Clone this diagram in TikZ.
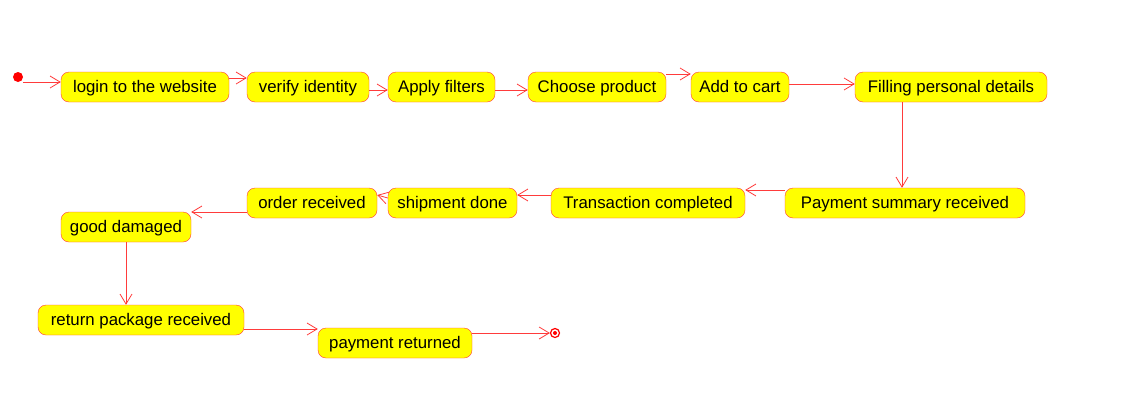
\documentclass[tikz,border=0pt]{standalone}
\usepackage{fontspec}
\setmainfont{Liberation Sans}
\usetikzlibrary{arrows.meta}
\definecolor{actred}{HTML}{FF3B3B}
\definecolor{actyellow}{HTML}{FFFF00}

\begin{document}
\begin{tikzpicture}[x=1pt, y=-1pt,
    act/.style={draw=actred, fill=actyellow, rounded corners=8pt, minimum height=30pt,
      inner sep=0pt, text height=13pt, text depth=1.5pt, font=\fontsize{16.8}{19}\selectfont},
    flow/.style={actred, line width=0.8pt, -{Straight Barb[length=10pt, width=12pt, line width=0.8pt]}}]
        \useasboundingbox[fill=white] (0,0) rectangle (1129,418);
        % first row
        \node[circle, fill=red, inner sep=0pt, minimum size=10pt] (start) at (18,77) {};
        \node[act, minimum width=168pt] (login) at (145,87) {login to the website};
        \node[act, minimum width=122pt] (verify) at (308,87) {verify identity};
        \node[act, minimum width=107pt] (filters) at (441.5,87) {Apply filters};
        \node[act, minimum width=138pt] (choose) at (597,87) {Choose product};
        \node[act, minimum width=98pt] (cart) at (740,87) {Add to cart};
        \node[act, minimum width=192pt] (details) at (951,87) {Filling personal details};
        % second row
        \node[act, minimum width=240pt] (summary) at (905,203) {Payment summary received};
        \node[act, minimum width=194pt] (transaction) at (648,203) {Transaction completed};
        \node[act, minimum width=129pt] (shipment) at (452.5,203) {shipment done};
        \node[act, minimum width=130pt] (order) at (312,203) {order received};
        \node[act, minimum width=130pt] (damaged) at (126,227) {good damaged};
        % return
        \node[act, minimum width=206pt] (back) at (141,320) {return package received};
        \node[act, minimum width=154pt] (refund) at (395,343) {payment returned};
        \node[circle, draw=red, line width=1.2pt, inner sep=0pt, minimum size=9pt,
          path picture={\fill[red] (path picture bounding box.center) circle (2pt);}] (stop) at (555,333) {};
        % connectors
        \draw[flow] ([yshift=-5pt]start.east) -- ([yshift=5pt]login.west);
        \draw[flow] ([yshift=9pt]login.east) -- ([yshift=9pt]verify.west);
        \draw[flow] ([yshift=-3pt]verify.east) -- ([yshift=-3pt]filters.west);
        \draw[flow] ([yshift=-3pt]filters.east) -- ([yshift=-3pt]choose.west);
        \draw[flow] ([yshift=13pt]choose.east) -- ([yshift=13pt]cart.west);
        \draw[flow] ([yshift=3pt]cart.east) -- ([yshift=3pt]details.west);
        \draw[flow] ([xshift=-49pt]details.south) -- ([xshift=-3pt]summary.north);
        \draw[flow] ([yshift=13pt]summary.west) -- ([yshift=13pt]transaction.east);
        \draw[flow] ([yshift=8pt]transaction.west) -- ([yshift=8pt]shipment.east);
        \draw[flow] ([yshift=5pt]shipment.west) -- ([yshift=8pt]order.east);
        \draw[flow] ([yshift=-9pt]order.west) -- ([yshift=15pt]damaged.east);
        \draw[flow] (damaged.south) -- ([xshift=-15pt]back.north);
        \draw[flow] ([yshift=-9pt]back.east) -- ([yshift=14pt]refund.west);
        \draw[flow] ([yshift=10pt]refund.east) -- (stop.west);
      \end{tikzpicture}
\end{document}
